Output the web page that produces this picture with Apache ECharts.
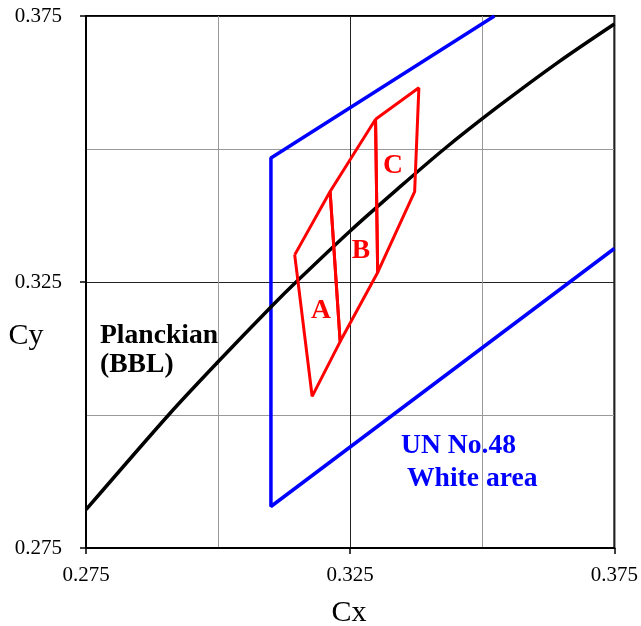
<!DOCTYPE html>
<html>
<head>
<meta charset="utf-8">
<script src="https://cdn.jsdelivr.net/npm/echarts@6/dist/echarts.min.js"></script>
<style>
  html, body { margin: 0; padding: 0; background: #fff; }
  #chart { width: 641px; height: 626px; }
</style>
</head>
<body>
<div id="chart"></div>
<script>
// axis ticks (labelled every 0.05, gridlines every 0.025)
const xTicks = [0.275, 0.325, 0.375]
const yTicks = [0.275, 0.325, 0.375]

// Planckian locus (BBL)
const planckian = [
  [0.275, 0.2822], [0.2907, 0.3001], [0.300, 0.3100], [0.310, 0.3203],
  [0.3153, 0.3255], [0.325, 0.3346], [0.3341, 0.3426], [0.3428, 0.3500],
  [0.3529, 0.3579], [0.3642, 0.3662], [0.375, 0.3735]
]

// UN No.48 white area boundary (cut by the plot frame)
const whiteArea = [
  [0.3523, 0.375], [0.310, 0.3483], [0.310, 0.2828], [0.375, 0.3313]
]

// red quadrangles
const quadA = [[0.3145, 0.3301], [0.3212, 0.3420], [0.3231, 0.3138], [0.3178, 0.3035], [0.3145, 0.3301]]
const quadB = [[0.3212, 0.3420], [0.3298, 0.3556], [0.3302, 0.3268], [0.3231, 0.3138], [0.3212, 0.3420]]
const quadC = [[0.3298, 0.3556], [0.3380, 0.3615], [0.3372, 0.3420], [0.3302, 0.3268], [0.3298, 0.3556]]

const serif = '"Liberation Serif", "Times New Roman", serif'

const chart = echarts.init(document.getElementById('chart'))

function valueAxis(ticks) {
  return {
    type: 'value',
    min: ticks[0],
    max: ticks[ticks.length - 1],
    interval: ticks[1] - ticks[0],
    axisLine: { show: true, lineStyle: { color: '#000', width: 2 } },
    axisTick: { show: true, length: 6, lineStyle: { color: '#000', width: 1.5 } },
    axisLabel: {
      color: '#000', fontFamily: serif, fontSize: 21,
      formatter: v => v.toFixed(3)
    },
    splitLine: { show: true, lineStyle: { color: '#222', width: 1 } },
    minorTick: { show: false, splitNumber: 2 },
    minorSplitLine: { show: true, lineStyle: { color: '#9a9a9a', width: 1 } }
  }
}

const xAxis = valueAxis(xTicks)
xAxis.axisLabel.margin = 17
const yAxis = valueAxis(yTicks)
yAxis.axisLabel.margin = 24

function lineSeries(name, data, color, width) {
  return {
    name: name,
    type: 'line',
    data: data,
    showSymbol: false,
    symbol: 'none',
    clip: true,
    lineStyle: { color: color, width: width },
    z: 3
  }
}

const planck = lineSeries('Planckian', planckian, '#000', 3.5)
planck.smooth = 0.3

// text annotations
const big = 'bold 27.6px ' + serif
function note(text, x, y, color, align) {
  return {
    type: 'text',
    style: { text: text, x: x, y: y, font: big, fill: color, textAlign: align || 'left', textVerticalAlign: 'middle' }
  }
}

const option = {
  animation: false,
  grid: {
    left: 86, top: 16, width: 531, height: 532,
    show: true, borderColor: '#000', borderWidth: 2, backgroundColor: 'transparent'
  },
  xAxis: xAxis,
  yAxis: yAxis,
  series: [
    lineSeries('UN No.48', whiteArea, '#0000ff', 3.5),
    planck,
    lineSeries('A', quadA, '#ff0000', 3),
    lineSeries('B', quadB, '#ff0000', 3),
    lineSeries('C', quadC, '#ff0000', 3)
  ],
  graphic: [
    { type: 'text', style: { text: 'Cx', x: 349, y: 613, font: '30px ' + serif, fill: '#000', textAlign: 'center', textVerticalAlign: 'middle' } },
    { type: 'text', style: { text: 'Cy', x: 26, y: 336, font: '30px ' + serif, fill: '#000', textAlign: 'center', textVerticalAlign: 'middle' } },
    note('Planckian', 100, 336, '#000'),
    note('(BBL)', 100, 365, '#000'),
    note('UN No.48', 401, 446, '#0000ff'),
    note('White area', 407, 479, '#0000ff'),
    note('A', 321, 311, '#ff0000', 'center'),
    note('B', 361, 251, '#ff0000', 'center'),
    note('C', 393, 166, '#ff0000', 'center')
  ]
}

chart.setOption(option)
</script>
</body>
</html>
